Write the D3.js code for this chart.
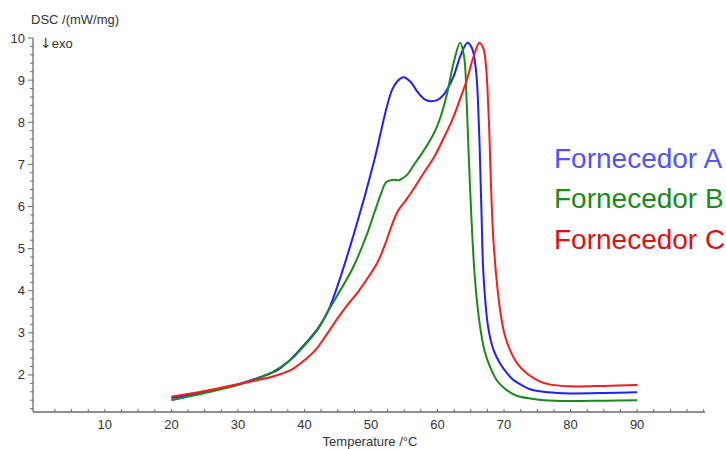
<!DOCTYPE html>
<html><head><meta charset="utf-8">
<script src="https://cdn.jsdelivr.net/npm/d3@7"></script>
<style>body{margin:0;background:#fff}svg{display:block;font-family:"Liberation Sans",Arial,sans-serif}</style>
</head><body><svg id="c" width="726" height="449"></svg>
<script>
const seriesNames = ["Fornecedor A", "Fornecedor B", "Fornecedor C"];
const lineColors = ["#1f1fff", "#1a8a1a", "#ff1a1a"];
const labelColors = ["#5252ff", "#1a8a1a", "#dd1111"];
const xTickValues = [10, 20, 30, 40, 50, 60, 70, 80, 90];
const yTickValues = [2, 3, 4, 5, 6, 7, 8, 9, 10];

// [temperature °C, DSC mW/mg]
const seriesA = [[20,1.45],[25,1.6],[30,1.78],[33,1.93],[36,2.12],[38,2.38],[40,2.72],[42,3.1],[43.5,3.5],[44.5,3.9],[47.6,5.44],[50.5,7.1],[51.6,7.85],[52.4,8.38],[53.2,8.78],[54,8.98],[54.9,9.07],[56,8.95],[56.9,8.74],[58,8.55],[58.9,8.5],[60,8.53],[60.9,8.65],[61.7,8.85],[62.4,9.08],[63.5,9.6],[64.5,9.89],[65.2,9.75],[65.8,9.2],[66.2,8.0],[66.6,5.91],[66.9,4.4],[67.6,3.14],[68.4,2.6],[69.4,2.27],[70.5,2.03],[71.4,1.88],[72.4,1.78],[73.9,1.66],[75.4,1.61],[78,1.57],[80,1.56],[85,1.57],[90,1.59]];
const seriesB = [[20,1.40],[25,1.57],[30,1.76],[33,1.92],[35,2.05],[38,2.37],[40,2.7],[42,3.08],[43.5,3.5],[44.8,3.85],[47.3,4.55],[49.3,5.3],[50.5,5.85],[51.5,6.3],[52.3,6.58],[53.2,6.63],[54.3,6.63],[55.4,6.75],[56.5,7.0],[57.4,7.2],[59,7.6],[59.9,7.89],[60.7,8.25],[61.4,8.65],[62.4,9.4],[63.4,9.89],[64.0,9.55],[64.4,8.4],[64.9,6.4],[65.6,4.33],[66.4,3.14],[67.1,2.55],[67.9,2.19],[69,1.85],[70.4,1.64],[72,1.5],[73.9,1.44],[76,1.4],[80,1.38],[85,1.39],[90,1.40]];
const seriesC = [[20,1.48],[25,1.62],[30,1.78],[33,1.88],[35,1.95],[38,2.12],[40,2.35],[41.8,2.62],[43.5,3.0],[45,3.35],[46.5,3.67],[48.1,3.98],[49.5,4.3],[50.9,4.65],[52,5.05],[53,5.5],[54,5.88],[55,6.1],[56,6.32],[57.9,6.79],[59.4,7.15],[61,7.65],[62.4,8.13],[63.5,8.6],[64.4,9.0],[65.4,9.55],[66.3,9.89],[66.9,9.75],[67.3,9.3],[67.7,8.1],[68.4,5.2],[69.4,3.54],[70.1,2.95],[70.9,2.59],[72,2.27],[73.4,2.04],[75.4,1.84],[77,1.77],[80,1.73],[85,1.74],[90,1.76]];
const allSeries = [seriesA, seriesB, seriesC];

const svg = d3.select("#c");
const x = d3.scaleLinear().domain([-0.8, 100.2]).range([33, 705]);
const y = d3.scaleLinear().domain([1.12, 10]).range([412, 38]);
const axisColor = "#6b6b6b", textColor = "#333";

// x axis
const gx = svg.append("g").attr("transform", "translate(0,412)");
gx.append("line").attr("x1", 33).attr("x2", 705).attr("stroke", axisColor).attr("stroke-width", 1.3);
const xMinor = d3.range(2.5, 100.1, 2.5);
gx.selectAll(".xm").data(xMinor).join("line")
  .attr("x1", d => x(d)).attr("x2", d => x(d)).attr("y1", 0).attr("y2", -3)
  .attr("stroke", axisColor).attr("stroke-width", 1);
gx.selectAll(".xl").data(xTickValues).join("text")
  .attr("x", d => x(d)).attr("y", 17).attr("text-anchor", "middle")
  .attr("font-size", 13).attr("fill", textColor).text(d => d);
svg.append("text").attr("x", 370).attr("y", 446).attr("text-anchor", "middle")
  .attr("font-size", 13).attr("fill", textColor).text("Temperature /°C");

// y axis
const gy = svg.append("g");
gy.append("line").attr("x1", 33).attr("x2", 33).attr("y1", 38).attr("y2", 412).attr("stroke", axisColor).attr("stroke-width", 1.3);
const yMinor = d3.range(12, 101, 2).map(v => v / 10);
gy.selectAll(".ym").data(yMinor).join("line")
  .attr("x1", 33).attr("x2", d => Number.isInteger(d) ? 28 : 30)
  .attr("y1", d => y(d)).attr("y2", d => y(d))
  .attr("stroke", axisColor).attr("stroke-width", 1);
gy.selectAll(".yl").data(yTickValues).join("text")
  .attr("x", 25).attr("y", d => y(d) + 4.5).attr("text-anchor", "end")
  .attr("font-size", 13).attr("fill", textColor).text(d => d);
svg.append("text").attr("x", 31).attr("y", 24).attr("font-size", 13).attr("fill", textColor).text("DSC /(mW/mg)");
const exo = svg.append("text").attr("x", 40).attr("y", 48).attr("font-size", 13).attr("fill", textColor);
exo.append("tspan").attr("font-family", "DejaVu Sans").attr("font-size", 14).text("↓");
exo.append("tspan").text("exo");

// curves
const line = d3.line().x(d => x(d[0])).y(d => y(d[1])).curve(d3.curveCatmullRom.alpha(0.5));
svg.selectAll(".curve").data(allSeries).join("path")
  .attr("d", line).attr("fill", "none")
  .attr("stroke", (d, i) => lineColors[i]).attr("stroke-width", 2);

// labels
svg.selectAll(".lab").data(seriesNames).join("text")
  .attr("x", 554).attr("y", (d, i) => 167.5 + i * 40.5)
  .attr("font-size", 28).attr("fill", (d, i) => labelColors[i]).text(d => d);
</script></body></html>
